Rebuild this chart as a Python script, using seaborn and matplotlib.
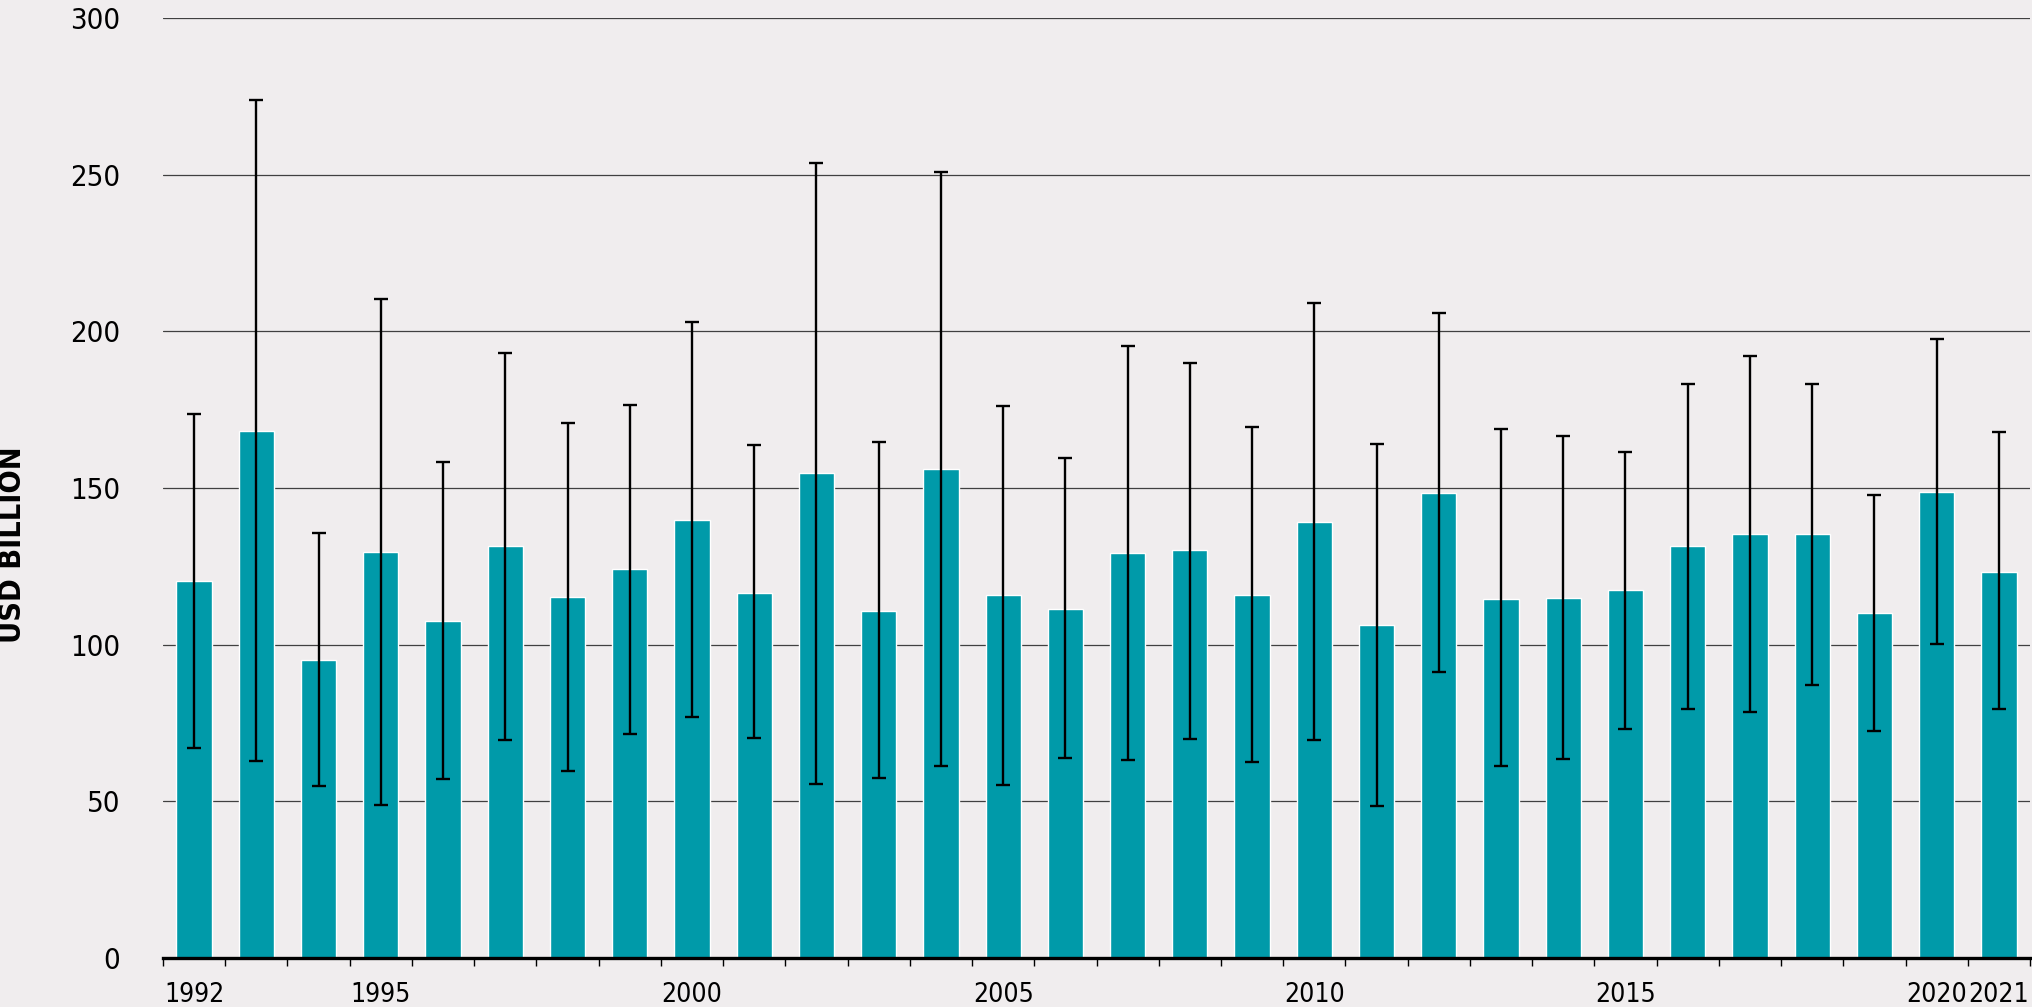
import matplotlib
matplotlib.use("Agg")
import matplotlib.pyplot as plt
from matplotlib import font_manager
import seaborn as sns
import pandas as pd
import numpy as np

years = [str(y) for y in range(1992, 2022)]
values = [120.2, 168.3, 95.1, 129.7, 107.4, 131.4, 115.3, 124.1, 139.7, 116.6,
          154.7, 110.7, 156.1, 115.7, 111.5, 129.3, 130.1, 116.0, 139.3, 106.2,
          148.4, 114.7, 114.9, 117.4, 131.4, 135.2, 135.2, 110.1, 148.8, 123.3]
err_high = [173.7, 273.9, 135.6, 210.4, 158.3, 193.0, 170.7, 176.6, 202.9, 163.6,
            253.6, 164.6, 250.8, 176.2, 159.7, 195.4, 189.9, 169.5, 209.0, 164.2,
            205.8, 168.7, 166.6, 161.6, 183.3, 192.0, 183.3, 147.8, 197.6, 167.8]
err_low = [67.1, 63.0, 54.9, 48.9, 57.0, 69.7, 59.8, 71.4, 76.8, 70.3,
           55.5, 57.6, 61.4, 55.1, 63.9, 63.2, 69.9, 62.4, 69.7, 48.6,
           91.2, 61.2, 63.5, 73.2, 79.5, 78.5, 87.2, 72.6, 100.1, 79.5]
labelled_years = ["1992", "1995", "2000", "2005", "2010", "2015", "2020", "2021"]
y_ticks = [0, 50, 100, 150, 200, 250, 300]
y_label = "USD BILLION"

BG = "#f0edee"
BAR = "#009aa9"

# pick a condensed font if one is installed
cond_fonts = []
for f in font_manager.fontManager.ttflist:
    name = f.name
    st = str(f.stretch).lower()
    if ("narrow" in name.lower() or "condensed" in name.lower()
            or st in ("condensed", "semi-condensed", "extra-condensed")
            or (isinstance(f.stretch, (int, float)) and f.stretch < 500)):
        cond_fonts.append(f)
cond_family = None
cond_stretch = "normal"
for f in cond_fonts:
    cond_family = f.name
    cond_stretch = f.stretch
    if "Sans" in f.name or "Roboto" in f.name:
        break

sns.set_theme(style="white")
if cond_family:
    plt.rcParams["font.family"] = [cond_family, "DejaVu Sans"]
    plt.rcParams["font.stretch"] = cond_stretch
    ysize, xsize, lsize = 21, 19, 22
else:
    plt.rcParams["font.family"] = ["DejaVu Sans"]
    ysize, xsize, lsize = 19, 17, 19

df = pd.DataFrame({"year": years, "value": values})

fig = plt.figure(figsize=(20.32, 10.07), dpi=100, facecolor=BG)
ax = fig.add_axes([163 / 2032, 1 - 958 / 1007, (2030 - 163) / 2032, (958 - 18) / 1007])
ax.set_facecolor(BG)

sns.barplot(data=df, x="year", y="value", color=BAR, width=0.567,
            saturation=1, errorbar=None, ax=ax, zorder=2)

pos = np.arange(len(years))
vals = np.array(values)
yerr = np.vstack([vals - np.array(err_low), np.array(err_high) - vals])
ax.errorbar(pos, vals, yerr=yerr, fmt="none", ecolor="black", elinewidth=1.7,
            capsize=4.8, capthick=1.7, zorder=4)

ax.set_ylim(0, 300)
ax.set_xlim(-0.5, len(years) - 0.5)
ax.set_yticks(y_ticks)
ax.set_yticklabels([str(t) for t in y_ticks])
ax.yaxis.grid(True, color="#404040", linewidth=0.9, zorder=0)
ax.set_axisbelow(True)
ax.tick_params(axis="y", length=0, pad=31, labelsize=ysize, labelcolor="black")

major_pos = [years.index(y) for y in labelled_years]
ax.set_xticks(major_pos)
ax.set_xticklabels(labelled_years)
ax.set_xticks(np.arange(-0.5, len(years), 1.0), minor=True)
ax.tick_params(axis="x", which="major", length=0, pad=17, labelsize=xsize, labelcolor="black")
ax.tick_params(axis="x", which="minor", length=6, width=1.0, color="black", bottom=True)

for s in ["top", "right", "left"]:
    ax.spines[s].set_visible(False)
ax.spines["bottom"].set_color("black")
ax.spines["bottom"].set_linewidth(2.4)
ax.spines["bottom"].set_zorder(5)

ax.set_xlabel("")
ax.set_ylabel("")
fig.text(13 / 2032, 1 - 545 / 1007, y_label, rotation=90, ha="center", va="center",
         fontsize=lsize, fontweight="bold", color="black")

fig.savefig("out.png", dpi=100, facecolor=BG)
